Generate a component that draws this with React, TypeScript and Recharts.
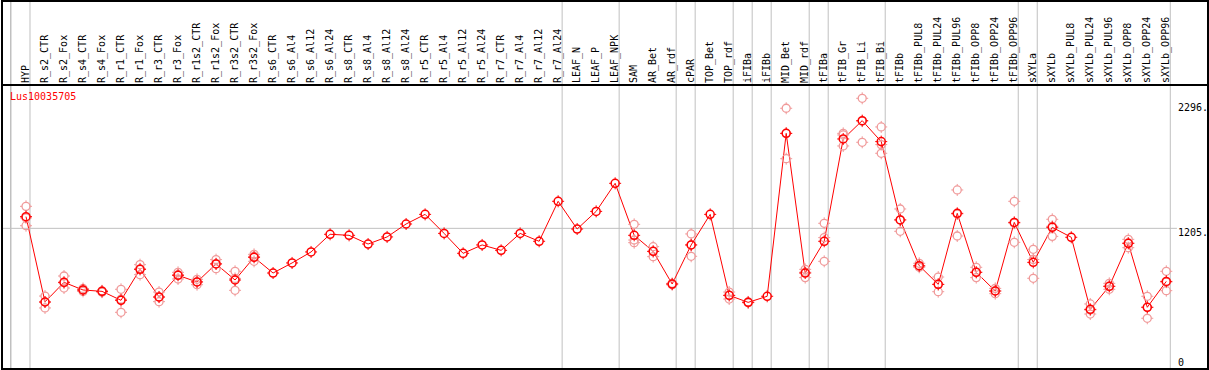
import React from "react";
import { ComposedChart, Line, Scatter, XAxis, YAxis, ReferenceLine } from "recharts";

if (typeof document !== "undefined") document.body.style.margin = "0";

const CATEGORIES = [
  "HYP", "R_s2_CTR", "R_s2_Fox", "R_s4_CTR", "R_s4_Fox", "R_r1_CTR", "R_r1_Fox", "R_r3_CTR", "R_r3_Fox",
  "R_r1s2_CTR", "R_r1s2_Fox", "R_r3s2_CTR", "R_r3s2_Fox", "R_s6_CTR", "R_s6_Al4", "R_s6_Al12", "R_s6_Al24",
  "R_s8_CTR", "R_s8_Al4", "R_s8_Al12", "R_s8_Al24", "R_r5_CTR", "R_r5_Al4", "R_r5_Al12", "R_r5_Al24",
  "R_r7_CTR", "R_r7_Al4", "R_r7_Al12", "R_r7_Al24", "LEAF_N", "LEAF_P", "LEAF_NPK", "SAM", "AR_Bet", "AR_rdf",
  "cPAR", "TOP_Bet", "TOP_rdf", "iFIBa", "iFIBb", "MID_Bet", "MID_rdf", "tFIBa", "tFIB_Gr", "tFIB_Li", "tFIB_Bi",
  "tFIBb", "tFIBb_PUL8", "tFIBb_PUL24", "tFIBb_PUL96", "tFIBb_OPP8", "tFIBb_OPP24", "tFIBb_OPP96", "sXYLa",
  "sXYLb", "sXYLb_PUL8", "sXYLb_PUL24", "sXYLb_PUL96", "sXYLb_OPP8", "sXYLb_OPP24", "sXYLb_OPP96",
];

const MEANS = [
  1307, 562, 734, 667, 655, 577, 847, 606, 795, 737, 894, 754, 952, 815, 903, 999, 1153, 1144, 1068, 1130,
  1243, 1327, 1161, 987, 1060, 1013, 1161, 1092, 1441, 1199, 1353, 1598, 1144, 1004, 719, 1060, 1327, 620,
  559, 612, 2034, 815, 1092, 1985, 2145, 1962, 1278, 879, 716, 1336, 821, 658, 1257, 908, 1214, 1127, 498,
  699, 1074, 516, 742,
];

const REPLICATES: number[][] = [
  [1397, 1228, 1296], [614, 510, 562], [789, 684, 730], [680, 655, 667], [660, 648, 655], [673, 472, 586],
  [888, 801, 852], [649, 565, 604], [821, 763, 800], [760, 713, 738], [932, 853, 897], [830, 664, 768],
  [978, 917, 960], [], [], [], [], [], [], [], [], [], [], [], [], [], [], [], [], [], [], [],
  [1240, 1103, 1080], [1045, 958, 1004], [725, 712], [1156, 961, 1060], [], [649, 588, 620], [563, 555], [],
  [2253, 1813, 2034], [847, 775, 822], [1249, 1124, 917], [2034, 2020, 1924], [2340, 1956, 2140],
  [2090, 1860, 1936], [1374, 1179, 1280], [900, 865, 872], [780, 652, 716], [1540, 1138, 1330],
  [865, 775, 823], [681, 635, 658], [1441, 1083, 1250], [1022, 769, 933], [1284, 1135, 1223], [],
  [545, 457, 492], [725, 673, 699], [1109, 1036, 1077], [612, 420, 516], [830, 661, 735],
];

// index of the last category in each group (vertical separators)
const GROUP_ENDS = [-1, 0, 28, 31, 34, 35, 37, 38, 39, 41, 42, 45, 52, 53, 60];

const Y_TICKS = [0, 1205, 2296];
const Y_LABELS: Record<number, string> = { 0: "0", 1205: "1205.", 2296: "2296." };

const TITLE = "Lus10035705";

// x positions are category index + OFFSET so every value on the axis stays positive
const OFFSET = 2;
const data = CATEGORIES.map((name, i) => ({ pos: i + OFFSET, name, mean: MEANS[i] }));
const repPoints = REPLICATES.flatMap((reps, i) => reps.map((v) => ({ pos: i + OFFSET, v })));

const X_DOMAIN: [number, number] = [OFFSET - 1.263, OFFSET + 62.142];
const Y_DOMAIN: [number, number] = [-14, 3198];
const FONT = "'DejaVu Sans Mono', monospace";

const MeanDot = (props: any) => {
  const { cx, cy } = props;
  if (cx == null || cy == null) return null;
  return (
    <g>
      <circle cx={cx} cy={cy} r={4} fill="none" stroke="#ff0000" strokeWidth={1.5} />
      <path
        d={`M${cx} ${cy - 6}v2M${cx} ${cy + 4}v2M${cx - 6} ${cy}h2M${cx + 4} ${cy}h2`}
        stroke="#ff0000"
        strokeWidth={1}
      />
    </g>
  );
};

const RepDot = (props: any) => {
  const { cx, cy } = props;
  if (cx == null || cy == null) return null;
  return (
    <g>
      <circle cx={cx} cy={cy} r={4} fill="none" stroke="#f09a9a" strokeWidth={1.3} />
      <path
        d={`M${cx} ${cy - 6}v2M${cx} ${cy + 4}v2M${cx - 6} ${cy}h2M${cx + 4} ${cy}h2`}
        stroke="#f09a9a"
        strokeWidth={1}
      />
    </g>
  );
};

const CatTick = (props: any) => {
  const { x, payload } = props;
  const label = CATEGORIES[payload.value - OFFSET];
  if (!label) return null;
  return (
    <text transform={`translate(${x + 3},83) rotate(-90)`} fontSize={10} fontFamily={FONT} fill="#000">
      {label}
    </text>
  );
};

const ValTick = (props: any) => {
  const { x, y, payload } = props;
  return (
    <text x={x - 21} y={y + (payload.value === 0 ? 0 : 8)} fontSize={10} fontFamily={FONT} fill="#000" textAnchor="start">
      {Y_LABELS[payload.value]}
    </text>
  );
};

export default function App() {
  return (
    <div style={{ position: "relative", width: 1209, height: 370, background: "#fff" }}>
      <ComposedChart width={1209} height={370} data={data} margin={{ top: 0, right: 2, bottom: 2, left: 2 }}>
        <XAxis
          type="number"
          dataKey="pos"
          orientation="top"
          mirror
          height={30}
          domain={X_DOMAIN}
          allowDataOverflow
          ticks={data.map((d) => d.pos)}
          interval={0}
          tick={<CatTick />}
          tickLine={false}
          axisLine={false}
        />
        <YAxis
          orientation="right"
          mirror
          domain={Y_DOMAIN}
          allowDataOverflow
          ticks={Y_TICKS}
          interval={0}
          tick={<ValTick />}
          tickLine={false}
          axisLine={false}
        />
        <ReferenceLine
          segment={[{ x: X_DOMAIN[0], y: 1205 }, { x: OFFSET + 60.56, y: 1205 }]}
          stroke="#c0c0c0"
          strokeWidth={1}
        />
        {GROUP_ENDS.map((k) => (
          <ReferenceLine
            key={`sep-${k}`}
            x={k + OFFSET + 0.21}
            stroke="#c0c0c0"
            strokeWidth={1}
            ifOverflow="extendDomain"
          />
        ))}
        <Scatter data={repPoints} dataKey="v" shape={<RepDot />} isAnimationActive={false} />
        <Line
          dataKey="mean"
          stroke="#ff0000"
          strokeWidth={1}
          dot={<MeanDot />}
          activeDot={false}
          isAnimationActive={false}
        />
      </ComposedChart>
      {/* leftmost separator, drawn outside the chart as a fallback */}
      <div style={{ position: "absolute", left: 10, top: 0, width: 1, height: 370, background: "#c0c0c0" }} />
      <div
        style={{
          position: "absolute",
          left: 1,
          top: 0,
          width: 1208,
          height: 370,
          boxSizing: "border-box",
          border: "2px solid #000",
          pointerEvents: "none",
        }}
      />
      <div style={{ position: "absolute", left: 1, top: 84, width: 1208, height: 2, background: "#000" }} />
      <div
        style={{
          position: "absolute",
          left: 10,
          top: 92,
          fontFamily: FONT,
          fontSize: 10,
          lineHeight: "10px",
          color: "#ff0000",
        }}
      >
        {TITLE}
      </div>
    </div>
  );
}
